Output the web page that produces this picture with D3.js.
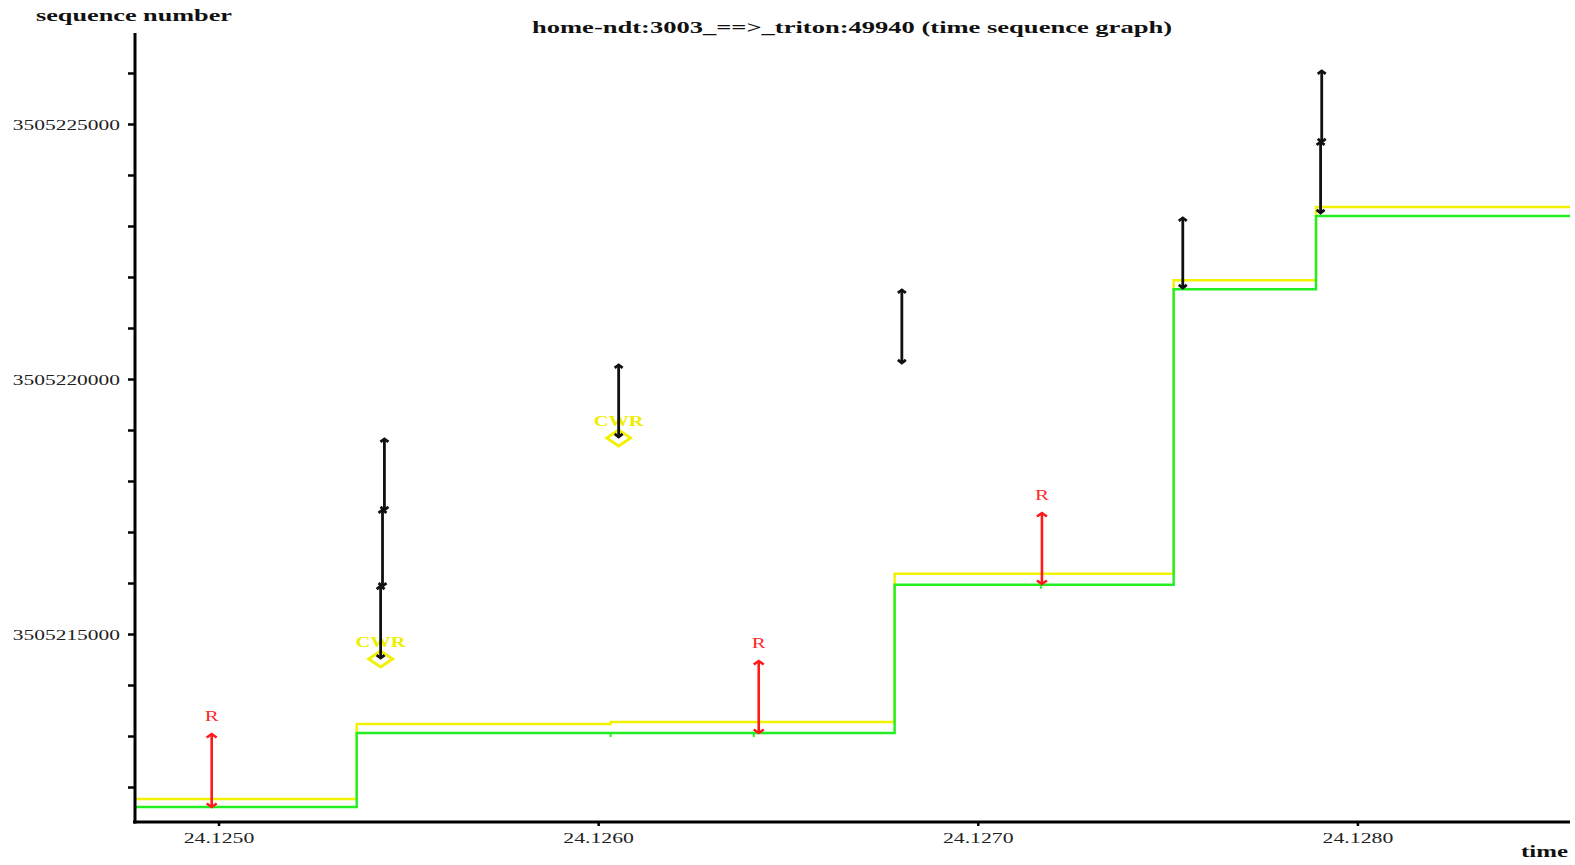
<!DOCTYPE html>
<html>
<head>
<meta charset="utf-8">
<script src="https://cdn.jsdelivr.net/npm/d3@7"></script>
<style>
    body { margin: 0; background: #fff; }
    text { font-family: "Liberation Serif", "Times New Roman", serif; }
</style>
</head>
<body>
<div id="chart"></div>
<script>
// Ack line (green) and receive window line (yellow), step after each time
const ackTimes = [24.12478, 24.125364, 24.126781, 24.127516, 24.127891, 24.12856];
const ackSeq = [3505211608, 3505213059, 3505215967, 3505221760, 3505223197, 3505223197];
const winTimes = [24.12478, 24.125364, 24.126033, 24.126781, 24.127516, 24.127891, 24.12856];
const winSeq = [3505211765, 3505213235, 3505213275, 3505216182, 3505221936, 3505223373, 3505223373];

// Small ack ticks on the green line
const ackTickTimes = [24.126033, 24.126410, 24.127166];
const ackTickSeq = [3505213059, 3505213059, 3505215967];

// Data segments (black)
const segTime = [24.125427, 24.125432, 24.125437, 24.126054, 24.126800, 24.127540, 24.127903, 24.127906];
const segStart = [3505214529, 3505215941, 3505217432, 3505218863, 3505220314, 3505221785, 3505223256, 3505224648];
const segEnd = [3505215941, 3505217432, 3505218824, 3505220275, 3505221746, 3505223158, 3505224648, 3505226040];

// Retransmitted segments (red, "R")
const rtTime = [24.124982, 24.126423, 24.127169];
const rtStart = [3505211608, 3505213059, 3505215981];
const rtEnd = [3505213039, 3505214471, 3505217373];

// CWR marks (yellow diamonds)
const cwrTime = [24.125427, 24.126054];
const cwrSeq = [3505214529, 3505218863];

// Axis ticks
const xTickValues = [24.1250, 24.1260, 24.1270, 24.1280];
const xTickLabels = ["24.1250", "24.1260", "24.1270", "24.1280"];
const yTickValues = [3505212000, 3505213000, 3505214000, 3505215000, 3505216000, 3505217000, 3505218000,
    3505219000, 3505220000, 3505221000, 3505222000, 3505223000, 3505224000, 3505225000, 3505226000];
const yLabelValues = [3505215000, 3505220000, 3505225000];

const width = 1575, height = 865;

const svg = d3.select("#chart")
    .append("svg")
    .attr("width", width)
    .attr("height", height);

const x = d3.scaleLinear().domain([24.12478, 24.12856]).range([135, 1570]);
const y = d3.scaleLinear().domain([3505211314, 3505226784]).range([822, 33]);

// stretch text horizontally, the original picture is wide
function stretch(sel, k) {
    sel.each(function () {
        const w = this.getComputedTextLength();
        d3.select(this).attr("textLength", w * k).attr("lengthAdjust", "spacingAndGlyphs");
    });
}
function fitTo(sel, w) {
    sel.attr("textLength", w).attr("lengthAdjust", "spacingAndGlyphs");
}

const stepLine = d3.line()
    .x(d => x(d[0]))
    .y(d => y(d[1]))
    .curve(d3.curveStepAfter);

// Window line
svg.append("path")
    .datum(winTimes.map((t, i) => [t, winSeq[i]]))
    .attr("d", stepLine)
    .attr("fill", "none")
    .attr("stroke", "#f2f200")
    .attr("stroke-width", 2.4);

// Ack line
svg.append("path")
    .datum(ackTimes.map((t, i) => [t, ackSeq[i]]))
    .attr("d", stepLine)
    .attr("fill", "none")
    .attr("stroke", "#22ee22")
    .attr("stroke-width", 2.4);

svg.selectAll(".acktick")
    .data(ackTickTimes)
    .enter()
    .append("line")
    .attr("class", "acktick")
    .attr("x1", d => x(d))
    .attr("x2", d => x(d))
    .attr("y1", (d, i) => y(ackTickSeq[i]))
    .attr("y2", (d, i) => y(ackTickSeq[i]) + 4)
    .attr("stroke", "#22ee22")
    .attr("stroke-width", 2);

// segment with arrow heads at both ends
function drawSegments(times, starts, ends, color, sw, a, b) {
    const g = svg.append("g")
        .attr("stroke", color)
        .attr("stroke-width", sw)
        .attr("fill", "none");
    times.forEach((t, i) => {
        const cx = x(t), y0 = y(starts[i]), y1 = y(ends[i]);
        g.append("line")
            .attr("x1", cx).attr("x2", cx)
            .attr("y1", y0).attr("y2", y1);
        g.append("path")
            .attr("d", `M${cx - a},${y0 - b}L${cx},${y0}L${cx + a},${y0 - b}`);
        g.append("path")
            .attr("d", `M${cx - a},${y1 + b}L${cx},${y1}L${cx + a},${y1 + b}`);
    });
}

drawSegments(rtTime, rtStart, rtEnd, "#ff1a1a", 2.6, 5, 3.5);

svg.selectAll(".rlabel")
    .data(rtTime)
    .enter()
    .append("text")
    .attr("class", "rlabel")
    .attr("x", d => x(d))
    .attr("y", (d, i) => y(rtEnd[i]) - 13)
    .attr("text-anchor", "middle")
    .attr("fill", "#ff2a2a")
    .style("font-size", "14px")
    .text("R")
    .call(stretch, 1.5);

// CWR diamonds
svg.selectAll(".cwr")
    .data(cwrTime)
    .enter()
    .append("path")
    .attr("class", "cwr")
    .attr("d", (d, i) => {
        const cx = x(d), cy = y(cwrSeq[i]) + 1;
        return `M${cx - 12},${cy}L${cx},${cy - 8}L${cx + 12},${cy}L${cx},${cy + 8}Z`;
    })
    .attr("fill", "none")
    .attr("stroke", "#f2f200")
    .attr("stroke-width", 2.8);

svg.selectAll(".cwrlabel")
    .data(cwrTime)
    .enter()
    .append("text")
    .attr("class", "cwrlabel")
    .attr("x", d => x(d))
    .attr("y", (d, i) => y(cwrSeq[i]) - 11)
    .attr("text-anchor", "middle")
    .attr("fill", "#eeee00")
    .attr("font-weight", "bold")
    .style("font-size", "14px")
    .text("CWR")
    .call(fitTo, 50);

drawSegments(segTime, segStart, segEnd, "#111", 2.8, 4, 3);

// Axes
const yAxis = svg.append("g")
    .attr("transform", "translate(135,0)")
    .call(d3.axisLeft(y)
        .tickValues(yTickValues)
        .tickSize(7)
        .tickSizeOuter(0)
        .tickPadding(8)
        .tickFormat(d => yLabelValues.includes(d) ? String(d) : ""));
yAxis.select(".domain").attr("stroke", "#000").attr("stroke-width", 3)
    .attr("d", "M0,33V823.5");
yAxis.selectAll(".tick line").attr("stroke", "#000").attr("stroke-width", 2.5);
yAxis.selectAll(".tick text")
    .attr("fill", "#222")
    .style("font-size", "15px")
    .style("font-family", "Liberation Serif")
    .attr("dy", "0.35em")
    .call(stretch, 1.43);

const xAxis = svg.append("g")
    .attr("transform", "translate(0,822)")
    .call(d3.axisBottom(x)
        .tickValues(xTickValues)
        .tickSize(4)
        .tickSizeOuter(0)
        .tickPadding(6)
        .tickFormat((d, i) => xTickLabels[i]));
xAxis.select(".domain").attr("stroke", "#000").attr("stroke-width", 3)
    .attr("d", "M133,0H1570");
xAxis.selectAll(".tick line").attr("stroke", "#000").attr("stroke-width", 2.5);
xAxis.selectAll(".tick text")
    .attr("fill", "#222")
    .style("font-size", "15px")
    .style("font-family", "Liberation Serif")
    .call(stretch, 1.45);

// Labels and title
svg.append("text")
    .attr("x", 36)
    .attr("y", 21)
    .attr("font-weight", "bold")
    .style("font-size", "16px")
    .attr("fill", "#111")
    .text("sequence number")
    .call(fitTo, 196);

svg.append("text")
    .attr("x", 1521)
    .attr("y", 857)
    .attr("font-weight", "bold")
    .style("font-size", "16px")
    .attr("fill", "#111")
    .text("time")
    .call(fitTo, 47);

svg.append("text")
    .attr("x", 852)
    .attr("y", 33)
    .attr("text-anchor", "middle")
    .attr("font-weight", "bold")
    .style("font-size", "16px")
    .attr("fill", "#111")
    .text("home-ndt:3003_==>_triton:49940 (time sequence graph)")
    .call(fitTo, 640);
</script>
</body>
</html>
